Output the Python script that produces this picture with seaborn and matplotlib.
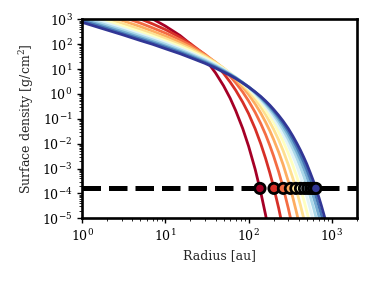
import numpy as np
import pandas as pd
import seaborn as sns
import matplotlib
matplotlib.use('Agg')
import matplotlib.pyplot as plt
from matplotlib.ticker import LogLocator

radius = [1, 2, 3, 5, 7, 10, 15, 20, 30, 40, 50, 60, 70, 85, 100, 120, 140, 160, 180,
          200, 230, 260, 300, 340, 380, 420, 460, 500, 550, 600, 650, 700, 750, 800,
          850, 900, 1000]

# log10 surface density [g/cm^2] for each snapshot (earliest -> latest)
log_sigma_0 = [4.12, 3.77, 3.56, 3.25, 3.02, 2.73, 2.35, 2.01, 1.41, 0.85, 0.33, -0.17, -0.67,
               -1.39, -2.10, -3.03, -3.95, -4.86, -5.76, -6.66]
log_sigma_1 = [3.82, 3.50, 3.29, 3.02, 2.82, 2.59, 2.28, 2.02, 1.58, 1.19, 0.83, 0.48, 0.15,
               -0.33, -0.79, -1.40, -2.00, -2.59, -3.17, -3.74, -4.59, -5.44, -6.56]
log_sigma_2 = [3.62, 3.30, 3.11, 2.85, 2.66, 2.45, 2.18, 1.96, 1.59, 1.27, 0.98, 0.71, 0.45,
               0.08, -0.28, -0.74, -1.19, -1.63, -2.07, -2.50, -3.13, -3.76, -4.59, -5.41,
               -6.23, -7.04]
log_sigma_3 = [3.47, 3.15, 2.96, 2.71, 2.53, 2.33, 2.08, 1.88, 1.55, 1.28, 1.03, 0.80, 0.58,
               0.27, -0.02, -0.40, -0.77, -1.13, -1.48, -1.83, -2.34, -2.84, -3.51, -4.16,
               -4.81, -5.46, -6.10, -6.74]
log_sigma_4 = [3.34, 3.03, 2.84, 2.59, 2.42, 2.23, 1.99, 1.81, 1.51, 1.26, 1.04, 0.83, 0.64,
               0.37, 0.12, -0.21, -0.52, -0.83, -1.13, -1.42, -1.85, -2.28, -2.84, -3.38,
               -3.93, -4.47, -5.00, -5.53, -6.19, -6.85]
log_sigma_5 = [3.24, 2.93, 2.74, 2.50, 2.33, 2.14, 1.92, 1.74, 1.46, 1.23, 1.02, 0.84, 0.67,
               0.43, 0.20, -0.09, -0.37, -0.64, -0.90, -1.15, -1.53, -1.90, -2.38, -2.86,
               -3.33, -3.79, -4.25, -4.71, -5.27, -5.84, -6.40, -6.96]
log_sigma_6 = [3.15, 2.84, 2.65, 2.41, 2.25, 2.07, 1.84, 1.67, 1.41, 1.19, 1.00, 0.83, 0.67,
               0.45, 0.24, -0.02, -0.27, -0.51, -0.74, -0.97, -1.31, -1.63, -2.06, -2.48,
               -2.89, -3.30, -3.71, -4.11, -4.61, -5.10, -5.59, -6.08, -6.57]
log_sigma_7 = [3.07, 2.76, 2.58, 2.34, 2.18, 2.00, 1.78, 1.61, 1.36, 1.15, 0.97, 0.81, 0.67,
               0.46, 0.27, 0.03, -0.20, -0.42, -0.63, -0.84, -1.14, -1.44, -1.82, -2.20,
               -2.57, -2.94, -3.30, -3.66, -4.11, -4.55, -4.99, -5.42, -5.86, -6.29, -6.72]
log_sigma_8 = [3.00, 2.69, 2.51, 2.27, 2.11, 1.93, 1.72, 1.56, 1.31, 1.11, 0.94, 0.79, 0.65,
               0.46, 0.28, 0.06, -0.15, -0.36, -0.55, -0.74, -1.02, -1.29, -1.64, -1.99,
               -2.33, -2.66, -2.99, -3.31, -3.72, -4.12, -4.51, -4.91, -5.30, -5.69, -6.08,
               -6.47, -7.24]
log_sigma_9 = [2.94, 2.63, 2.44, 2.21, 2.05, 1.88, 1.67, 1.51, 1.27, 1.08, 0.91, 0.77, 0.64,
               0.45, 0.29, 0.08, -0.12, -0.31, -0.49, -0.67, -0.93, -1.18, -1.50, -1.82,
               -2.13, -2.44, -2.74, -3.04, -3.41, -3.77, -4.14, -4.50, -4.85, -5.21, -5.56,
               -5.92, -6.62]
log_sigma_10 = [2.88, 2.57, 2.39, 2.15, 2.00, 1.82, 1.62, 1.46, 1.23, 1.04, 0.88, 0.75, 0.62,
                0.44, 0.28, 0.08, -0.10, -0.28, -0.45, -0.62, -0.86, -1.09, -1.39, -1.69,
                -1.98, -2.26, -2.54, -2.81, -3.16, -3.49, -3.83, -4.16, -4.49, -4.82, -5.14,
                -5.47, -6.11]

profiles = [log_sigma_0, log_sigma_1, log_sigma_2, log_sigma_3, log_sigma_4, log_sigma_5,
            log_sigma_6, log_sigma_7, log_sigma_8, log_sigma_9, log_sigma_10]

# threshold density and the radius where each profile crosses it
threshold = 1.6e-4
cross_radius = [137, 202, 262, 318, 370, 421, 469, 515, 560, 603, 645]

rows = []
for i, prof in enumerate(profiles):
    for r, s in zip(radius, prof):
        rows.append({'snapshot': i, 'radius': r, 'sigma': 10 ** s})
df = pd.DataFrame(rows)
df_cross = pd.DataFrame({'snapshot': range(len(cross_radius)),
                         'radius': cross_radius,
                         'sigma': [threshold] * len(cross_radius)})

sns.set_style('ticks')
plt.rcParams['font.family'] = ['DejaVu Serif']
plt.rcParams['mathtext.fontset'] = 'dejavuserif'

fig = plt.figure(figsize=(3.74, 2.81), dpi=100)
ax = fig.add_axes([0.22, 0.223, 0.734, 0.708])

colors = [tuple(c) for c in plt.cm.RdYlBu(np.linspace(0, 1, len(profiles)))]

sns.lineplot(data=df, x='radius', y='sigma', hue='snapshot', palette=colors, lw=2,
             legend=False, ax=ax, estimator=None, sort=False)
ax.axhline(threshold, color='k', ls='--', lw=3.6, zorder=3)
sns.scatterplot(data=df_cross, x='radius', y='sigma', hue='snapshot', palette=colors,
                s=55, edgecolor='k', linewidth=2, legend=False, ax=ax, zorder=4)

ax.set_xscale('log')
ax.set_yscale('log')
ax.set_xlim(1, 2000)
ax.set_ylim(1e-5, 1e3)
ax.set_yticks([10.0 ** k for k in range(-5, 4)])
ax.yaxis.set_minor_locator(LogLocator(base=10, subs=np.arange(2, 10), numticks=20))
ax.xaxis.set_minor_locator(LogLocator(base=10, subs=np.arange(2, 10), numticks=20))

for sp in ax.spines.values():
    sp.set_linewidth(1.9)
    sp.set_color('k')
ax.tick_params(which='major', length=3.5, width=1, labelsize=9, colors='k')
ax.tick_params(which='minor', length=2, width=0.7)

ax.set_xlabel('Radius [au]', fontsize=9)
ax.set_ylabel('Surface density [g/cm$^2$]', fontsize=9)

fig.savefig('out.png', dpi=100)
plt.close(fig)
